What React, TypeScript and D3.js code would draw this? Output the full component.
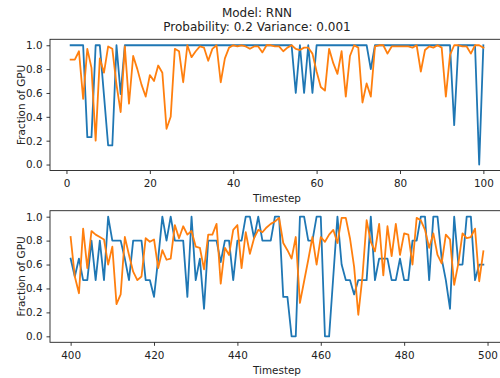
import * as d3 from 'd3';
import * as React from 'react';

const titleLines = ['Model: RNN', 'Probability: 0.2 Variance: 0.001'];
const yLabel = 'Fraction of GPU';
const xLabel = 'Timestep';
const yTicks = [0, 0.2, 0.4, 0.6, 0.8, 1.0];
const topXTicks = [0, 20, 40, 60, 80, 100];
const bottomXTicks = [400, 420, 440, 460, 480, 500];
const topStart = 1;
const bottomStart = 400;

// timesteps 1..100
const topBlue = [
  1, 1, 1, 1, 0.23, 0.23, 1, 1, 0.58, 0.16,
  0.16, 1, 0.59, 1, 1, 1, 1, 1, 1, 1,
  1, 1, 1, 1, 1, 1, 1, 1, 1, 1,
  1, 1, 1, 1, 1, 1, 1, 1, 1, 1,
  1, 1, 1, 1, 1, 1, 1, 1, 1, 1,
  1, 1, 1, 1, 0.6, 1, 0.6, 1, 0.6, 1,
  1, 1, 1, 1, 1, 1, 1, 1, 1, 1,
  1, 1, 0.8, 1, 1, 1, 1, 1, 1, 1,
  1, 1, 1, 1, 1, 1, 1, 1, 1, 1,
  1, 1, 0.33, 1, 1, 1, 1, 1, 0, 1,
];
const topOrange = [
  0.88, 0.88, 0.95, 0.55, 0.97, 0.81, 0.2, 0.89, 0.77, 0.99,
  0.97, 0.67, 0.44, 0.99, 0.51, 0.91, 0.8, 0.67, 0.57, 0.75,
  0.7, 0.83, 0.77, 0.3, 0.4, 0.97, 0.95, 0.69, 1.0, 0.9,
  0.95, 0.99, 0.98, 0.87, 0.97, 1.0, 0.69, 0.89, 0.98, 1.0,
  0.99, 1.0, 0.99, 0.97, 0.99, 0.99, 0.94, 1.0, 1.0, 0.99,
  0.99, 0.95, 0.98, 1.0, 0.97, 0.96, 0.98, 0.98, 0.93, 0.78,
  0.65, 0.62, 0.97, 0.85, 0.76, 0.95, 0.57, 0.91, 1.0, 0.98,
  0.52, 0.68, 0.57, 0.99, 1.0, 1.0, 0.93, 0.99, 0.99, 0.99,
  0.99, 0.99, 0.98, 1.0, 0.78, 0.96, 0.99, 0.98, 1.0, 0.98,
  0.57, 0.92, 1.0, 1.0, 0.99, 0.99, 0.93, 1.0, 1.0, 0.98,
];

// timesteps 400..499
const bottomBlue = [
  0.65, 0.5, 0.65, 0.47, 0.47, 0.8, 0.47, 0.8, 0.47, 1.0,
  0.8, 0.8, 0.8, 0.65, 0.47, 0.8, 0.8, 0.8, 0.47, 0.47,
  0.33, 0.65, 1.0, 0.8, 1.0, 0.8, 0.8, 0.8, 0.33, 1.0,
  0.47, 0.65, 0.23, 0.8, 0.8, 0.8, 0.62, 0.8, 0.8, 0.47,
  0.8, 0.8, 1.0, 1.0, 0.82, 1.0, 0.8, 0.8, 0.8, 1.0,
  1.0, 0.33, 0.33, 0, 0, 1.0, 1.0, 0.8, 0.8, 1.0,
  1.0, 0, 0, 0.5, 1.0, 0.6, 0.47, 0.47, 0.35, 0.47,
  0.47, 0.47, 1.0, 0.47, 0.65, 0.65, 0.65, 0.47, 0.47, 0.65,
  0.47, 0.47, 0.8, 0.8, 1.0, 1.0, 0.47, 1.0, 1.0, 0.65,
  0.47, 0.23, 1.0, 0.6, 0.6, 1.0, 1.0, 0.47, 0.6, 0.6,
];
const bottomOrange = [
  0.83, 0.5, 0.36, 0.9, 0.57, 0.88, 0.85, 0.83, 0.81, 0.6,
  0.75, 0.27, 0.35, 0.83, 0.68, 0.54, 0.47, 0.5, 0.82, 0.79,
  0.81, 0.57, 0.72, 0.64, 0.65, 0.93, 0.82, 0.92, 0.85, 0.88,
  0.75, 0.74, 0.56, 0.85, 0.85, 0.94, 0.44, 0.74, 0.68, 0.89,
  0.93, 0.57, 0.87, 0.69, 0.82, 0.89, 0.87, 0.91, 0.94, 0.96,
  0.99, 0.78, 0.72, 0.65, 0.83, 0.28, 0.46, 0.64, 0.83, 0.6,
  0.83, 0.79, 0.85, 0.89, 0.78, 0.99, 0.99, 0.82, 0.58, 0.18,
  0.5, 0.97, 0.79, 0.71, 0.94, 0.51, 0.92, 0.67, 0.94, 0.68,
  0.86, 0.85, 0.6, 0.99, 0.97, 0.89, 0.74, 0.86, 0.68, 0.61,
  0.85, 0.81, 0.43, 0.61, 0.86, 0.82, 0.83, 0.9, 0.46, 0.71,
];

const seriesColors = ['#1f77b4', '#ff7f0e'];
const font = '"DejaVu Sans", sans-serif';

const App = () => {
  const d3Container = React.useRef<SVGSVGElement | null>(null);

  React.useEffect(() => {
    if (!d3Container.current) {
      return;
    }
    const svg = d3.select(d3Container.current);
    svg.selectAll('*').remove();

    const left = 50;
    const right = 504;

    svg.append('rect').attr('width', 500).attr('height', 378).attr('fill', '#fff');

    const title = svg
      .append('text')
      .attr('text-anchor', 'middle')
      .style('font-family', font)
      .style('font-size', '12px')
      .attr('fill', '#222');
    titleLines.forEach((line, i) => {
      title.append('tspan').attr('x', 257).attr('y', 17 + i * 14).text(line);
    });

    const panels = [
      { top: 39.3, bottom: 170.5, start: topStart, ticks: topXTicks, series: [topBlue, topOrange] },
      { top: 210.7, bottom: 342.3, start: bottomStart, ticks: bottomXTicks, series: [bottomBlue, bottomOrange] },
    ];

    panels.forEach((p) => {
      const n = p.series[0].length;
      const pad = (n - 1) * 0.05;
      const xScale = d3
        .scaleLinear()
        .domain([p.start - pad, p.start + n - 1 + pad])
        .range([left, right]);
      const yScale = d3.scaleLinear().domain([-0.05, 1.05]).range([p.bottom, p.top]);

      const g = svg.append('g');

      p.series.forEach((values, si) => {
        g.append('path')
          .datum(values)
          .attr('fill', 'none')
          .attr('stroke', seriesColors[si])
          .attr('stroke-width', 1.8)
          .attr('stroke-linejoin', 'round')
          .attr('stroke-linecap', 'square')
          .attr(
            'd',
            d3
              .line<number>()
              .x((d, i) => xScale(p.start + i))
              .y((d) => yScale(d))
          );
      });

      const xAxis = g
        .append('g')
        .attr('transform', `translate(0,${p.bottom})`)
        .call(d3.axisBottom(xScale).tickValues(p.ticks).tickSize(3.5).tickPadding(5.5).tickSizeOuter(0));
      const yAxis = g
        .append('g')
        .attr('transform', `translate(${left},0)`)
        .call(
          d3
            .axisLeft(yScale)
            .tickValues(yTicks)
            .tickFormat(d3.format('.1f'))
            .tickSize(3.5)
            .tickPadding(4)
            .tickSizeOuter(0)
        );
      [xAxis, yAxis].forEach((a) => {
        a.select('.domain').remove();
        a.selectAll('.tick line').attr('stroke', '#222').attr('stroke-width', 0.9);
        a.selectAll('.tick text')
          .attr('fill', '#222')
          .style('font-family', font)
          .style('font-size', '10.4px');
      });

      g.append('rect')
        .attr('x', left)
        .attr('y', p.top)
        .attr('width', right - left)
        .attr('height', p.bottom - p.top)
        .attr('fill', 'none')
        .attr('stroke', '#222')
        .attr('stroke-width', 0.9);

      g.append('text')
        .attr('x', (left + right) / 2)
        .attr('y', p.bottom + 31.5)
        .attr('text-anchor', 'middle')
        .attr('fill', '#222')
        .style('font-family', font)
        .style('font-size', '10.4px')
        .text(xLabel);

      g.append('text')
        .attr('transform', `translate(24.5,${(p.top + p.bottom) / 2}) rotate(-90)`)
        .attr('text-anchor', 'middle')
        .attr('fill', '#222')
        .style('font-family', font)
        .style('font-size', '10.4px')
        .text(yLabel);
    });
  }, []);

  return (
    <svg
      ref={d3Container}
      width={500}
      height={378}
      style={{ position: 'absolute', left: 0, top: 0, display: 'block' }}
    />
  );
};

export default App;
